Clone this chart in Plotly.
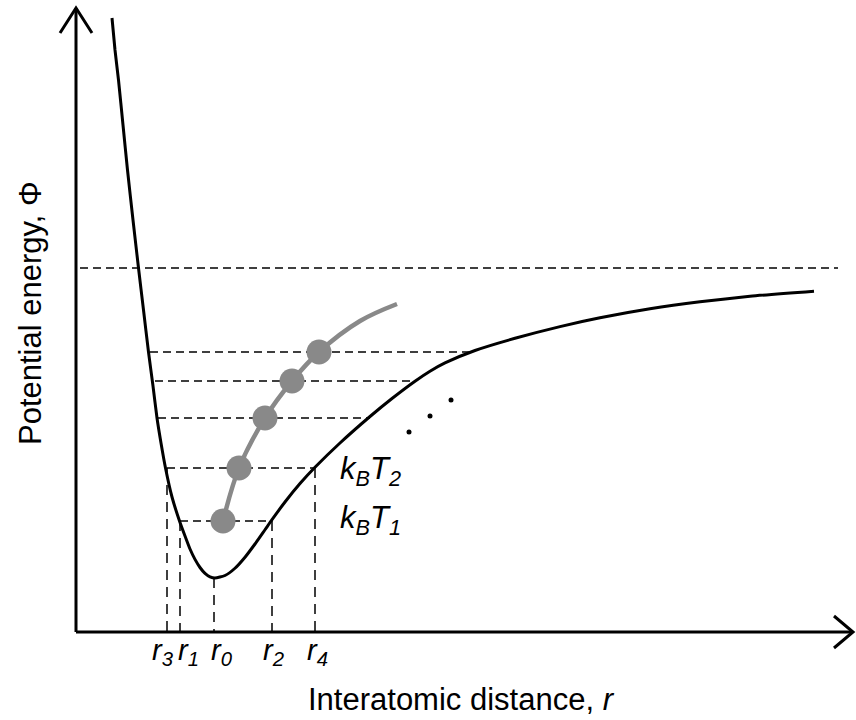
import plotly.graph_objects as go

# ---------------- data (arbitrary units) ----------------
# potential energy curve Φ(r); Φ = 0 at the dissociation limit
curve_r = [0.36, 0.39, 0.425, 0.47, 0.515, 0.57, 0.625, 0.675, 0.725, 0.77, 0.81, 0.85,
           0.895, 0.96, 1.035, 1.09, 1.14, 1.19, 1.24, 1.29, 1.34, 1.39, 1.49, 1.59,
           1.69, 1.79, 1.89, 1.96, 2.09, 2.24, 2.39, 2.64, 2.94, 3.16, 3.39, 3.54, 3.69,
           3.99, 4.39, 4.84, 5.24, 5.74, 6.24, 6.74, 7.38]
curve_phi = [2.50, 2.18, 1.88, 1.43, 0.98, 0.48, 0.00, -0.42, -0.84, -1.18, -1.50, -1.75,
             -2.00, -2.29, -2.53, -2.68, -2.81, -2.914, -2.995, -3.054, -3.088, -3.10, -3.075,
             -3.0025, -2.8925, -2.76, -2.6175, -2.517, -2.34, -2.156, -1.993, -1.75, -1.485,
             -1.305, -1.132, -1.032, -0.949, -0.825, -0.703, -0.586, -0.498, -0.408, -0.338,
             -0.283, -0.232]

# vibrational energy levels (kT levels) and their turning points
level_phi = [-2.53, -2.00, -1.50, -1.13, -0.84]
level_left = [1.04, 0.91, 0.82, 0.79, 0.74]
level_right = [1.96, 2.39, 2.94, 3.39, 3.99]

# mean interatomic distance at each level (gray dots) + continuation of the gray curve
mean_r = [1.47, 1.63, 1.89, 2.16, 2.43]
mean_curve_r = [1.47, 1.63, 1.89, 2.16, 2.43, 2.84, 3.21]
mean_curve_phi = [-2.53, -2.00, -1.50, -1.13, -0.84, -0.53, -0.36]

# marked distances on the r axis
mark_subs = ["3", "1", "0", "2", "4"]
mark_r = [0.91, 1.04, 1.38, 1.96, 2.39]
mark_top = [-2.00, -2.53, -3.10, -2.53, -2.00]
mark_label_r = [0.87, 1.12, 1.46, 1.97, 2.41]

# ellipsis dots
dots_r = [3.33, 3.54, 3.75]
dots_phi = [-1.64, -1.48, -1.32]

# temperature labels
kt_subs = ["2", "1"]
kt_phi = [-2.03, -2.52]
kt_r = 2.62

asymptote_phi = 0.0
asymptote_span = [0.04, 7.62]

# axes frame
AXIS_PHI = -3.64     # level of the r axis
AXIS_R = 0.0         # position of the Φ axis
R_END = 7.77
PHI_END = 2.60
X_RANGE = [-0.76, 7.80]
Y_RANGE = [-4.52, 2.68]

FONT = "Liberation Sans, Arial, sans-serif"
GRAY = "#898989"
DASH = "8px,5px"

fig = go.Figure()

# axes with arrowheads
ux = (X_RANGE[1] - X_RANGE[0]) / 856.0   # data units per pixel
uy = (Y_RANGE[1] - Y_RANGE[0]) / 720.0
fig.add_trace(go.Scatter(x=[AXIS_R, AXIS_R, None, AXIS_R, R_END],
                         y=[PHI_END, AXIS_PHI, None, AXIS_PHI, AXIS_PHI],
                         mode="lines", line=dict(color="black", width=3)))
fig.add_trace(go.Scatter(
    x=[AXIS_R - 16 * ux, AXIS_R, AXIS_R + 16 * ux, None,
       R_END - 19 * ux, R_END, R_END - 19 * ux],
    y=[PHI_END - 25 * uy, PHI_END, PHI_END - 25 * uy, None,
       AXIS_PHI + 16 * uy, AXIS_PHI, AXIS_PHI - 16 * uy],
    mode="lines", line=dict(color="black", width=3)))

# dissociation asymptote
fig.add_trace(go.Scatter(x=asymptote_span, y=[asymptote_phi, asymptote_phi], mode="lines",
                         line=dict(color="black", width=1.5, dash=DASH)))

# energy levels
hx, hy = [], []
for p, a, b in zip(level_phi, level_left, level_right):
    hx += [a, b, None]
    hy += [p, p, None]
fig.add_trace(go.Scatter(x=hx, y=hy, mode="lines",
                         line=dict(color="black", width=1.5, dash=DASH)))

# vertical markers
vx, vy = [], []
for r, t in zip(mark_r, mark_top):
    vx += [r, r, None]
    vy += [t, AXIS_PHI, None]
fig.add_trace(go.Scatter(x=vx, y=vy, mode="lines",
                         line=dict(color="black", width=1.5, dash="10px,7px")))

# potential curve
fig.add_trace(go.Scatter(x=curve_r, y=curve_phi, mode="lines",
                         line=dict(color="black", width=3, shape="spline", smoothing=0.6)))

# mean distance curve and dots
fig.add_trace(go.Scatter(x=mean_curve_r, y=mean_curve_phi, mode="lines",
                         line=dict(color=GRAY, width=4.5, shape="spline", smoothing=1.0)))
fig.add_trace(go.Scatter(x=mean_r, y=level_phi, mode="markers",
                         marker=dict(color=GRAY, size=25, line=dict(width=0))))

# ellipsis
fig.add_trace(go.Scatter(x=dots_r, y=dots_phi, mode="markers",
                         marker=dict(color="black", size=5, symbol="circle")))

annotations = []
for s, r in zip(mark_subs, mark_label_r):
    annotations.append(dict(x=r, y=AXIS_PHI - 0.2,
                            text="<i>r</i><sub><i>" + s + "</i></sub>",
                            showarrow=False, xanchor="center", yanchor="middle",
                            font=dict(family=FONT, size=29, color="black")))
for s, p in zip(kt_subs, kt_phi):
    annotations.append(dict(x=kt_r, y=p,
                            text="<i>k</i><sub><i>B</i></sub><i>T</i><sub><i>" + s + "</i></sub>",
                            showarrow=False, xanchor="left", yanchor="middle",
                            font=dict(family=FONT, size=31, color="black")))
annotations.append(dict(x=3.85, y=-4.31, text="Interatomic distance, <i>r</i>",
                        showarrow=False, xanchor="center", yanchor="middle",
                        font=dict(family=FONT, size=31, color="black")))
annotations.append(dict(x=-0.46, y=-0.45, text="Potential energy, Φ", textangle=-90,
                        showarrow=False, xanchor="center", yanchor="middle",
                        font=dict(family=FONT, size=31, color="black")))

fig.update_layout(
    width=856, height=720, autosize=False,
    margin=dict(l=0, r=0, t=0, b=0, pad=0),
    paper_bgcolor="white", plot_bgcolor="white",
    showlegend=False,
    xaxis=dict(range=X_RANGE, visible=False, fixedrange=True),
    yaxis=dict(range=Y_RANGE, visible=False, fixedrange=True),
    annotations=annotations,
)

fig.write_html("out.html")
